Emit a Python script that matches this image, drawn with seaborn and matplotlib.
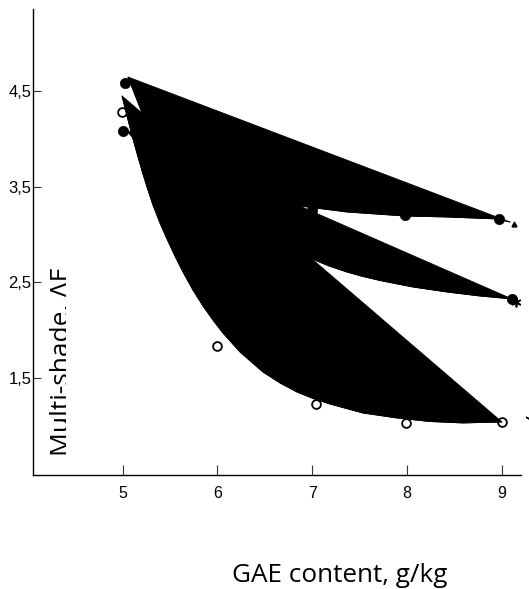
import numpy as np
import pandas as pd
import matplotlib
matplotlib.use("Agg")
import matplotlib.pyplot as plt
from matplotlib.patches import Rectangle
import seaborn as sns

# ---------------- data ----------------
x_ticks = [5, 6, 7, 8, 9]
x_tick_labels = ["5", "6", "7", "8", "9"]
y_ticks = [1.5, 2.5, 3.5, 4.5]
y_tick_labels = ["1,5", "2,5", "3,5", "4,5"]

# traced curves, each drawn as a filled black outline
curve_top_x = [5.055, 5.20, 5.5, 6.0, 6.5, 6.87, 7.37, 7.98, 8.42, 8.96, 9.09]
curve_top_y = [4.646, 4.28, 3.80, 3.50, 3.36, 3.298, 3.235, 3.193, 3.183, 3.162, 3.13]

curve_mid_x = [5.04, 5.5, 6.0, 6.5, 7.0, 7.177, 7.367, 7.536, 7.716, 8.064, 8.423,
               8.772, 9.110]
curve_mid_y = [4.09, 3.55, 3.20, 2.95, 2.744, 2.671, 2.608, 2.561, 2.519, 2.451, 2.399,
               2.357, 2.326]

curve_low_x = [4.992, 5.050, 5.108, 5.161, 5.213, 5.266, 5.319, 5.393, 5.467, 5.551,
               5.636, 5.741, 5.847, 5.952, 6.058, 6.238, 6.480, 6.660, 6.839, 7.008,
               7.188, 7.536, 7.895, 8.244, 8.592, 9.004]
curve_low_y = [4.448, 4.218, 3.998, 3.810, 3.632, 3.465, 3.308, 3.120, 2.953, 2.775,
               2.608, 2.420, 2.253, 2.106, 1.970, 1.772, 1.563, 1.448, 1.354, 1.286,
               1.228, 1.134, 1.082, 1.045, 1.030, 1.040]

# markers
filled_x = [5.02, 7.0, 7.98, 8.97, 5.0, 9.11]
filled_y = [4.58, 3.26, 3.20, 3.16, 4.08, 2.33]
open_x = [4.99, 5.99, 7.04, 7.99, 9.0]
open_y = [4.28, 1.83, 1.23, 1.03, 1.04]

# ---------------- figure ----------------
sns.set_theme(style="ticks")
plt.rcParams["font.family"] = ["Liberation Sans", "DejaVu Sans"]

W, H = 529, 589
fig = plt.figure(figsize=(W / 100, H / 100), dpi=100)
ax = fig.add_axes([33 / W, 1 - 475 / H, (521 - 33) / W, (475 - 9) / H])
ax.set_facecolor("white")

# markers under the filled shapes
sns.scatterplot(x=open_x, y=open_y, ax=ax, marker="o", s=40, facecolor="white",
                edgecolor="black", linewidth=1.3, zorder=2, legend=False)
sns.scatterplot(x=filled_x, y=filled_y, ax=ax, marker="o", s=55, color="black",
                edgecolor="black", linewidth=0.5, zorder=2, legend=False)

# filled curves
for cx, cy in [(curve_top_x, curve_top_y), (curve_mid_x, curve_mid_y), (curve_low_x, curve_low_y)]:
    ax.fill(cx, cy, color="black", linewidth=0.6, zorder=3)
    df = pd.DataFrame({"x": cx, "y": cy})
    sns.lineplot(data=df, x="x", y="y", ax=ax, sort=False, color="black",
                 linewidth=0.6, zorder=3)

# small end marks
ax.plot([9.13], [3.11], marker="^", markersize=3.5, color="black", zorder=4)
ax.plot([9.15], [2.29], marker=(6, 2, 0), markersize=7, color="black",
        markeredgewidth=1.2, zorder=4)
ax.plot([9.28], [1.08], marker=(2, 2, 60), markersize=4, color="black",
        markeredgewidth=1.0, zorder=4, clip_on=False)

ax.set_xlim(4.052, 9.205)
ax.set_ylim(0.486, 5.357)
ax.set_xticks(x_ticks)
ax.set_xticklabels(x_tick_labels)
ax.set_yticks(y_ticks)
ax.set_yticklabels(y_tick_labels)
ax.set_xlabel("")
ax.set_ylabel("")

for s in ["top", "right"]:
    ax.spines[s].set_visible(False)
for s in ["left", "bottom"]:
    ax.spines[s].set_color("black")
    ax.spines[s].set_linewidth(1.0)

ax.tick_params(axis="x", direction="in", length=7.5, width=0.8, color="#333333",
               pad=8, labelsize=11.5, labelcolor="black")
ax.tick_params(axis="y", direction="in", length=6, width=0.8, color="#333333",
               pad=1, labelsize=12, labelcolor="black")

# axis titles
fig.text(340 / W, 1 - 575 / H, "GAE content, g/kg", ha="center", va="center",
         fontsize=18.8, family=["Open Sans", "DejaVu Sans"], color="black")
ax.text(68.5 / W, 1 - 361 / H, "Multi-shade, \u0394E", rotation=90,
        rotation_mode="anchor", ha="center", va="baseline",
        fontsize=19, family=["Open Sans", "DejaVu Sans"], color="black",
        transform=fig.transFigure, clip_on=False, zorder=8)
# the label is cut off along its baseline in the original
ax.add_patch(Rectangle((66 / W, 1 - 470 / H), 6 / W, 220 / H,
                       transform=fig.transFigure, facecolor="white",
                       edgecolor="none", zorder=9, clip_on=False))

fig.savefig("out.png", dpi=100, facecolor="white")
